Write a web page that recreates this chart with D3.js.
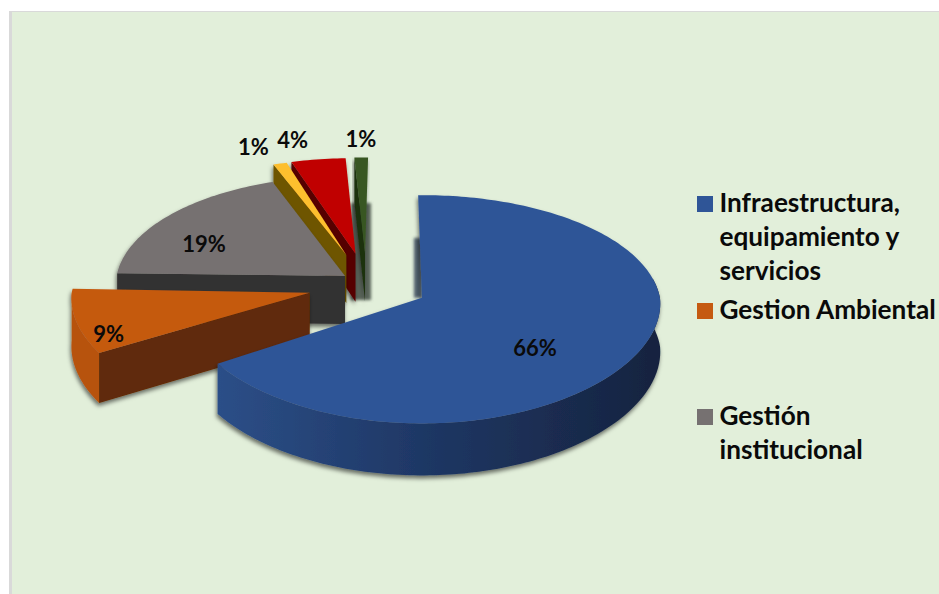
<!DOCTYPE html>
<html><head><meta charset="utf-8">
<script src="https://cdn.jsdelivr.net/npm/d3@7/dist/d3.min.js"></script>
<style>html,body{margin:0;padding:0;background:#fff}svg{display:block}</style>
</head><body><svg id="c" width="939" height="594"></svg>
<script>
// data
const categories = ["Infraestructura, equipamiento y servicios","Gestion Ambiental","Gestión institucional","Otros 1","Otros 2","Otros 3"];
const values = [66, 9, 19, 1, 4, 1];
const explode = [1, 1, 0.45, 1, 1, 1];
const topColors = ["#2f5597","#c55a11","#767171","#fdbf2d","#c00000","#385723"];
const sideColors = ["#1e3560","#612b07","#323031","#6e5500","#560000","#1e3010"];
const rimColors = ["#1e3560","#b7520f","#3a3838","#6e5500","#560000","#1e3010"];
const legendLabels = [["Infraestructura,","equipamiento y","servicios"],["Gestion Ambiental"],["Gestión","institucional"]];
const legendSeries = [0, 1, 2];

// layout
const W = 939, H = 594;
const C = {x: 368, y: 283.6}, R = 238, A = 113, PY = 0.1, E = {x: 61, y: 30.6};
const rot = -1 * Math.PI / 180;
const twist = [0, 3, 2.5, 3.2, 2, 1.8].map(d => d * Math.PI / 180);
const backScale = [1, 1, 0.97, 0.93, 0.93, 0.93];
const radiusScale = [1, 1, 0.96, 1, 1, 1];
const labelDelta = [[113,52],[-201,44],[-142,-32],[-94,-108],[-64,-113],[-5,-114]].map((d,i)=>[[113,52],[-201,44],[-141,-30],[-93,-106],[-63,-111],[-4,-112]][i]);

const svg = d3.select("#c");
const defs = svg.append("defs");
const f = defs.append("filter").attr("id","ds").attr("x","-10%").attr("y","-10%").attr("width","120%").attr("height","125%");
f.append("feDropShadow").attr("dx",-1).attr("dy",3).attr("stdDeviation",2).attr("flood-color","#000").attr("flood-opacity",0.55);
defs.append("filter").attr("id","bl").attr("x","-60%").attr("y","-20%").attr("width","220%").attr("height","140%")
  .append("feGaussianBlur").attr("stdDeviation",1.6);
const g0 = defs.append("linearGradient").attr("id","blueRim").attr("gradientUnits","userSpaceOnUse")
  .attr("x1",215).attr("x2",660).attr("y1",0).attr("y2",0);
[[0,"#2c4f88"],[0.45,"#1f3866"],[1,"#16233f"]].forEach(s=>g0.append("stop").attr("offset",s[0]).attr("stop-color",s[1]));

// background panel
svg.append("rect").attr("x",0).attr("y",0).attr("width",W).attr("height",H).attr("fill","#fff");
svg.append("rect").attr("x",9).attr("y",11).attr("width",W-9).attr("height",H-11).attr("fill","#d9d9d9");
svg.append("rect").attr("x",12).attr("y",12).attr("width",W-12).attr("height",H-12).attr("fill","#e2efda");

const pie = d3.pie().sort(null).value(d=>d).startAngle(rot).endAngle(rot+2*Math.PI);
const arcs = pie(values);
const fwd = t => -Math.cos(t);
function apex(i){
  const a = arcs[i], m = (a.startAngle+a.endAngle)/2, e = explode[i];
  return {x: C.x + e*E.x*Math.sin(m), y: C.y + e*E.y*fwd(m)};
}
function rimPt(i,t){
  const o = apex(i), y = fwd(t);
  const sy = y < 0 ? backScale[i] : 1, px = y < 0 ? 0.09 : 0.05;
  return {x: o.x + radiusScale[i]*R*Math.sin(t)/(1-px*y), y: o.y + sy*A*y/(1-PY*y)};
}
const depth = t => 48 + 4*fwd(t);
const line = d3.line().x(d=>d.x).y(d=>d.y);
const closed = pts => line(pts)+"Z";
const sample = (a,b) => { const n=Math.max(2,Math.ceil((b-a)/0.02)); return d3.range(n+1).map(k=>a+(b-a)*k/n); };
const down = (p,t) => ({x:p.x, y:p.y+depth(t)});

// blurred walls behind the exploded slices
const gAp = apex(5), bAp = apex(0);
svg.append("rect").attr("x",gAp.x-14).attr("y",gAp.y-50).attr("width",20).attr("height",97)
  .attr("fill","#5a655a").attr("filter","url(#bl)");
svg.append("rect").attr("x",bAp.x-8).attr("y",bAp.y-60).attr("width",8).attr("height",60)
  .attr("fill","#2a3a50").attr("opacity",0.8).attr("filter","url(#bl)");

// slices, back to front
const order = [5,4,3,2,1,0];
svg.selectAll("g.slice").data(order).join("g").attr("class","slice").attr("filter","url(#ds)")
 .each(function(i){
  const g = d3.select(this), a = arcs[i], o = apex(i);
  const t0 = a.startAngle + twist[i], t1 = a.endAngle + twist[i];
  // outer rim (only front-facing part)
  const r0 = Math.max(t0, 80*Math.PI/180), r1 = Math.min(t1, 1.5*Math.PI);
  if (r1 > r0) {
    const ts = sample(r0,r1);
    const tp = ts.map(t=>rimPt(i,t)), bp = ts.map(t=>down(rimPt(i,t),t)).reverse();
    g.append("path").attr("d",closed(tp.concat(bp))).attr("fill", i===0 ? "url(#blueRim)" : rimColors[i]);
  }
  // radial wall at the slice start
  if (t0 > Math.PI) {
    const p = rimPt(i,t0);
    g.append("path").attr("d",closed([p,o,{x:o.x,y:o.y+depth(1.5*Math.PI)},down(p,t0)])).attr("fill",sideColors[i]);
  }
  // top face
  const tp = sample(t0,t1).map(t=>rimPt(i,t));
  g.append("path").attr("d",closed([o].concat(tp))).attr("fill",topColors[i]);
 });

// data labels
svg.selectAll("text.pct").data(values).join("text").attr("class","pct")
  .attr("x",(d,i)=>apex(i).x+labelDelta[i][0]).attr("y",(d,i)=>apex(i).y+labelDelta[i][1])
  .attr("text-anchor","middle").attr("dominant-baseline","middle")
  .attr("font-family","Lato, 'Open Sans', sans-serif").attr("font-weight",700).attr("font-size",22).attr("fill","#0a0a0a")
  .text(d=>d+"%");

// legend
const legendY = [212, 319, 425];
const lg = svg.selectAll("g.leg").data(legendLabels).join("g").attr("class","leg");
lg.append("rect").attr("x",697).attr("y",(d,i)=>legendY[i]-16).attr("width",16).attr("height",16)
  .attr("fill",(d,i)=>topColors[legendSeries[i]]);
lg.each(function(lines,i){
  d3.select(this).selectAll("text").data(lines).join("text")
    .attr("x",719.5).attr("y",(d,k)=>legendY[i]+k*34)
    .attr("font-family","Lato, 'Open Sans', sans-serif").attr("font-weight",700).attr("font-size",26.2).attr("fill","#0a0a0a")
    .text(d=>d);
});
</script></body></html>
